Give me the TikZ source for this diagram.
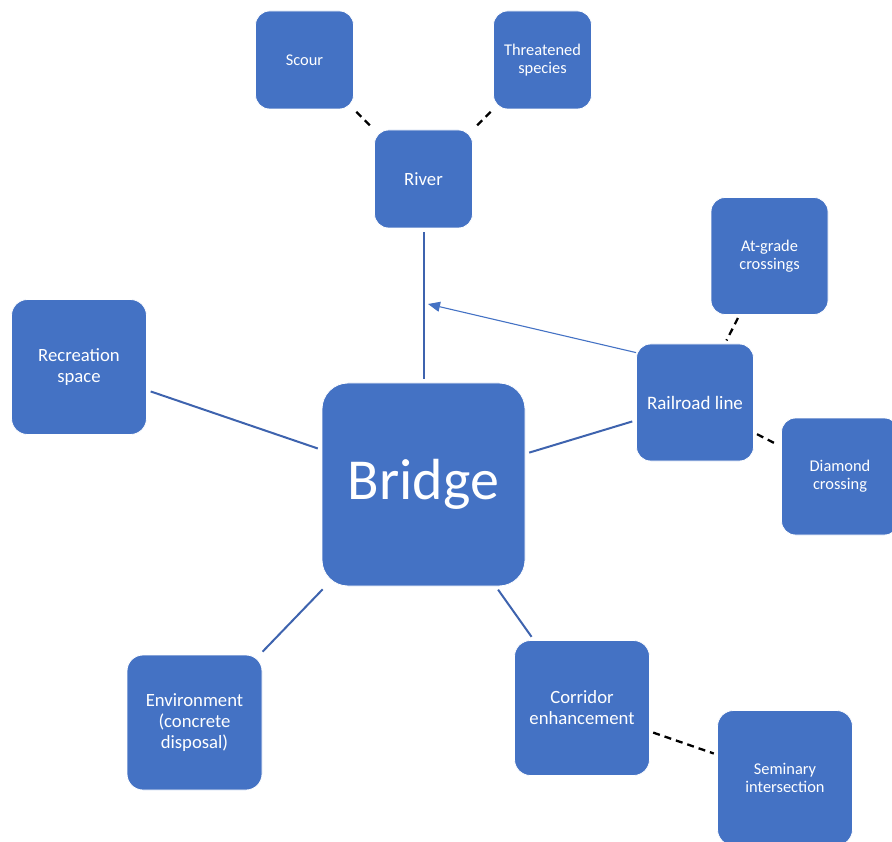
\documentclass[tikz,border=0pt]{standalone}
\usepackage{fontspec}
\setmainfont{Carlito}
\usetikzlibrary{arrows.meta}
\definecolor{boxblue}{HTML}{4472C4}
\definecolor{linkblue}{HTML}{3E63AE}
\begin{document}
\begin{tikzpicture}[x=1pt,y=-1pt,
  topic/.style={draw=white, line width=0.8pt, fill=boxblue, text=white,
    align=center, inner sep=0pt, rounded corners=14pt},
  smallbox/.style={topic, minimum width=98pt, minimum height=98pt},
  midbox/.style={topic, minimum width=117pt, minimum height=117pt},
  bigbox/.style={topic, minimum width=135pt, minimum height=135pt, rounded corners=16pt},
  hubbox/.style={topic, minimum width=203pt, minimum height=203pt, rounded corners=26pt,
    font=\fontsize{58}{64}\selectfont},
  fsmall/.style={font=\fontsize{16.4}{18.4}\selectfont},
  flarge/.style={font=\fontsize{18.7}{21}\selectfont},
  link/.style={draw=linkblue, line width=2pt, shorten <=4pt, shorten >=4pt},
  dashlink/.style={draw=black, line width=2.3pt, dash pattern=on 7pt off 5pt,
    shorten <=3.5pt, shorten >=3.5pt},
  pointer/.style={draw=boxblue, line width=1.1pt,
    -{Triangle[length=12pt,width=10pt]}}]
\useasboundingbox (0,0) rectangle (892,842);

% hub
\node[hubbox] (Bridge) at (423.5,484.5) {Bridge};

% first ring
\node[smallbox, flarge] (River) at (423.5,179) {River};
\node[bigbox, flarge] (Recreation) at (79,367) {Recreation\\space};
\node[midbox, font=\fontsize{19}{21}\selectfont] (Railroad) at (695,402.5) {Railroad line};
\node[bigbox, flarge] (Environment) at (194.5,722.5) {Environment\\(concrete\\disposal)};
\node[bigbox, flarge] (Corridor) at (582,708) {Corridor\\enhancement};

% second ring
\node[smallbox, fsmall] (Scour) at (304.5,60) {Scour};
\node[smallbox, fsmall] (Threatened) at (542.5,60) {Threatened\\species};
\node[midbox, fsmall] (AtGrade) at (769.5,256) {At-grade\\crossings};
\node[midbox, fsmall] (Diamond) at (840,476.5) {Diamond\\crossing};
\node[bigbox, fsmall] (Seminary) at (785,778) {Seminary\\intersection};

% solid links to the hub
\draw[link] (River) -- (Bridge);
\draw[link] (Recreation) -- (Bridge);
\draw[link] (Railroad) -- (Bridge);
\draw[link] (Bridge) -- (Environment);
\draw[link] (Bridge) -- (Corridor);

% dashed sub-links
\draw[dashlink] (Scour) -- (River);
\draw[dashlink] (Threatened) -- (River);
\draw[dashlink] (AtGrade) -- (Railroad);
\draw[dashlink] (Railroad) -- (Diamond);
\draw[dashlink] (Corridor) -- (Seminary);

% railroad pointing at the river link
\coordinate (tip) at (428,304);
\draw[pointer] ([yshift=-9pt]Railroad.north west) -- (tip);
\end{tikzpicture}
\end{document}
